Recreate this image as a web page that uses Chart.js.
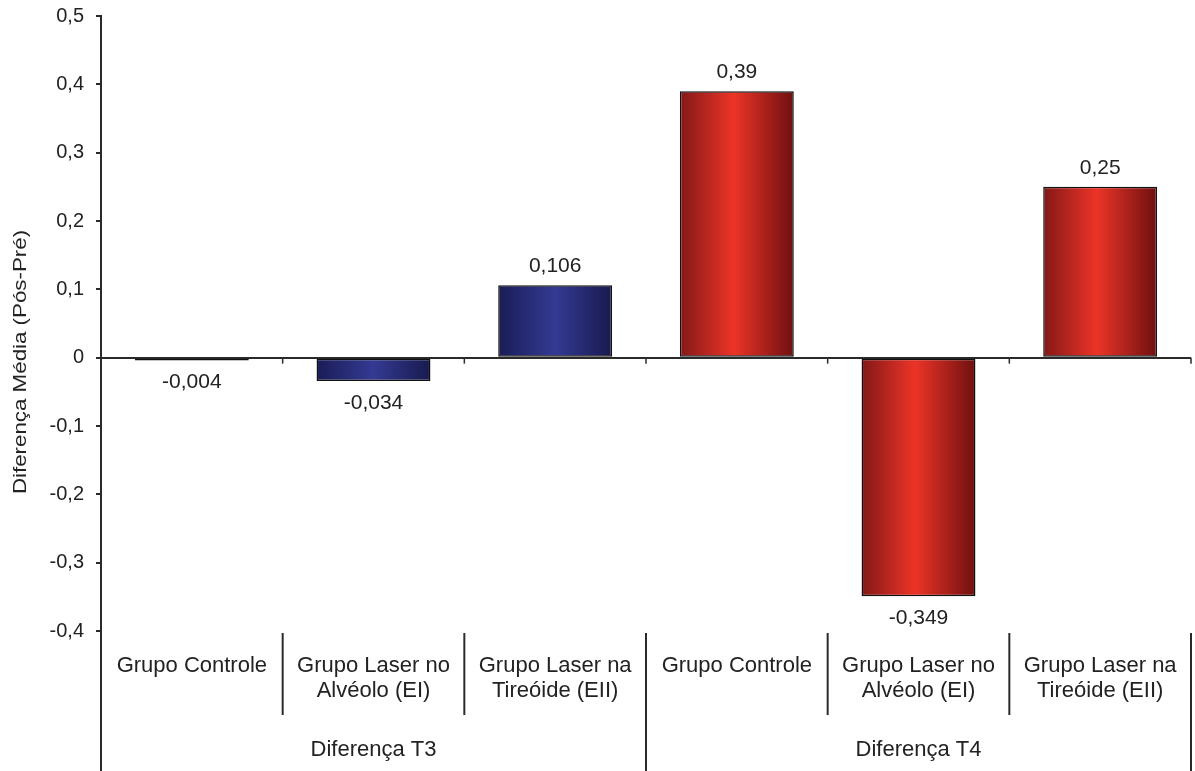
<!DOCTYPE html>
<html>
<head>
<meta charset="utf-8">
<script src="https://cdn.jsdelivr.net/npm/chart.js@4.4.1/dist/chart.umd.min.js"></script>
<style>
  html, body { margin: 0; padding: 0; background: #fff; }
  #wrap { width: 1195px; height: 771px; position: relative; }
</style>
</head>
<body>
<div id="wrap"><canvas id="chart"></canvas></div>
<script>
// Groups shown under the axis, each spanning three bars
const groups = ['Diferença T3', 'Diferença T4'];
const groupSizes = [3, 3];

// One bar per category (multi-line labels)
const categories = [
  ['Grupo Controle'],
  ['Grupo Laser no', 'Alvéolo (EI)'],
  ['Grupo Laser na', 'Tireóide (EII)'],
  ['Grupo Controle'],
  ['Grupo Laser no', 'Alvéolo (EI)'],
  ['Grupo Laser na', 'Tireóide (EII)']
];

// Mean difference (post - pre) per category
const values = [-0.004, -0.034, 0.106, 0.39, -0.349, 0.25];

// Palette index per bar: 0 = T3 (blue), 1 = T4 (red)
const paletteOf = [0, 0, 0, 1, 1, 1];

// Value axis range
const yMin = -0.4;
const yMax = 0.5;
const yStep = 0.1;

const palettes = [
  [[0, '#1a1c56'], [0.5, '#343a93'], [1, '#181a4f']],
  [[0, '#831818'], [0.47, '#ec3427'], [1, '#6e1010']]
];

const FONT = '"Liberation Sans", Arial, sans-serif';
const INK = '#222';
const LINE = '#2a2a2a';
const BAR_PCT = 0.627;

function fmt(v) {
  return String(v).replace('.', ',');
}

function barFill(ctx) {
  const chart = ctx.chart;
  const pal = palettes[paletteOf[ctx.dataIndex]];
  const xs = chart.scales.x;
  if (!chart.chartArea || !xs) return pal[1][1];
  const catW = xs.getPixelForValue(1) - xs.getPixelForValue(0);
  const w = catW * BAR_PCT;
  const cx = xs.getPixelForValue(ctx.dataIndex);
  const g = chart.ctx.createLinearGradient(cx - w / 2, 0, cx + w / 2, 0);
  pal.forEach(([s, c]) => g.addColorStop(s, c));
  return g;
}

// Value labels above / below each bar
const valueLabels = {
  id: 'valueLabels',
  afterDatasetsDraw(chart) {
    const ctx = chart.ctx;
    const meta = chart.getDatasetMeta(0);
    ctx.save();
    ctx.font = '21px ' + FONT;
    ctx.fillStyle = INK;
    ctx.textAlign = 'center';
    ctx.textBaseline = 'middle';
    meta.data.forEach((bar, i) => {
      const v = values[i];
      const y = v >= 0 ? bar.y - 19 : bar.y + 22;
      ctx.fillText(fmt(v), bar.x, y);
    });
    ctx.restore();
  }
};

// Zero-line ticks, category separators, group labels and axis title
const frame = {
  id: 'frame',
  afterDraw(chart) {
    const ctx = chart.ctx;
    const xs = chart.scales.x;
    const ys = chart.scales.y;
    const area = chart.chartArea;
    const H = chart.height;
    const catW = xs.getPixelForValue(1) - xs.getPixelForValue(0);
    const y0 = ys.getPixelForValue(0);
    const n = categories.length;
    ctx.save();
    ctx.strokeStyle = LINE;

    // y axis continues through the label area
    ctx.lineWidth = 2;
    ctx.beginPath();
    ctx.moveTo(area.left, area.bottom);
    ctx.lineTo(area.left, H);
    ctx.stroke();

    const groupEnds = [];
    let acc = 0;
    groupSizes.forEach(s => { acc += s; groupEnds.push(acc); });

    for (let i = 1; i <= n; i++) {
      const bx = xs.getPixelForValue(i - 1) + catW / 2;
      // small tick below the zero line
      ctx.lineWidth = 1.5;
      ctx.beginPath();
      ctx.moveTo(bx, y0);
      ctx.lineTo(bx, y0 + 6);
      ctx.stroke();
      // separator in the label area
      const long = groupEnds.includes(i);
      ctx.lineWidth = 2;
      ctx.beginPath();
      ctx.moveTo(bx, area.bottom + 2);
      ctx.lineTo(bx, long ? H : area.bottom + 84);
      ctx.stroke();
    }

    // group labels
    ctx.font = '22px ' + FONT;
    ctx.fillStyle = INK;
    ctx.textAlign = 'center';
    ctx.textBaseline = 'middle';
    let start = 0;
    groups.forEach((g, gi) => {
      const end = start + groupSizes[gi];
      const left = xs.getPixelForValue(start) - catW / 2;
      const right = xs.getPixelForValue(end - 1) + catW / 2;
      ctx.fillText(g, (left + right) / 2, area.bottom + 119);
      start = end;
    });

    // y axis title
    ctx.translate(21, 362);
    ctx.rotate(-Math.PI / 2);
    ctx.scale(1.24, 1);
    ctx.font = '18px ' + FONT;
    ctx.fillText('Diferença Média (Pós-Pré)', 0, 0);
    ctx.restore();
  }
};

new Chart(document.getElementById('chart'), {
  type: 'bar',
  data: {
    labels: categories,
    datasets: [{
      data: values,
      backgroundColor: barFill,
      borderColor: '#111',
      borderWidth: 1.5,
      borderSkipped: false,
      barPercentage: BAR_PCT,
      categoryPercentage: 1
    }]
  },
  options: {
    responsive: true,
    maintainAspectRatio: false,
    animation: false,
    events: [],
    layout: { padding: { top: 16, right: 4, left: 0, bottom: 0 } },
    plugins: {
      legend: { display: false },
      tooltip: { enabled: false }
    },
    scales: {
      x: {
        grid: { display: false, drawTicks: false },
        border: { display: false },
        ticks: {
          color: INK,
          font: { family: FONT, size: 22, lineHeight: 25 / 22 },
          padding: 22,
          maxRotation: 0,
          autoSkip: false
        },
        afterFit(scale) {
          scale.height = 140;
          scale.paddingLeft = 0;
          scale.paddingRight = 0;
        }
      },
      y: {
        min: yMin,
        max: yMax,
        border: { display: true, color: LINE, width: 2 },
        grid: {
          color: c => (c.tick && Math.abs(c.tick.value) < 1e-9 ? LINE : 'rgba(0,0,0,0)'),
          lineWidth: 2,
          tickColor: LINE,
          tickLength: 5,
          drawOnChartArea: true
        },
        ticks: {
          stepSize: yStep,
          color: INK,
          padding: 12,
          font: { family: FONT, size: 20 },
          callback: v => fmt(Math.round(v * 10) / 10)
        },
        afterFit(scale) {
          scale.width = 101;
          scale.paddingTop = 0;
          scale.paddingBottom = 0;
        }
      }
    }
  },
  plugins: [valueLabels, frame]
});
</script>
</body>
</html>
